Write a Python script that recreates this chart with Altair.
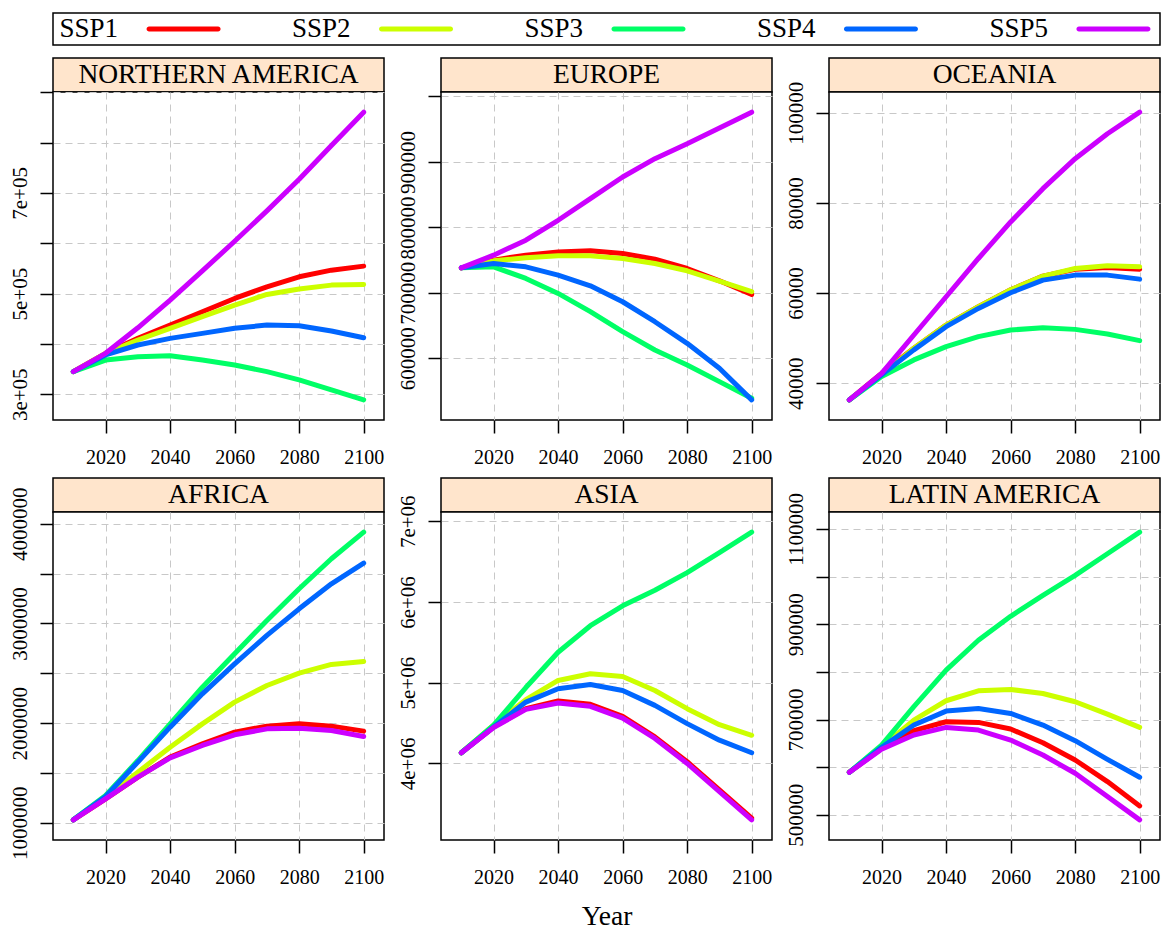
import altair as alt
import pandas as pd

FONT = "Liberation Serif"

years = [2010, 2020, 2030, 2040, 2050, 2060, 2070, 2080, 2090, 2100]
scenarios = ["SSP1", "SSP2", "SSP3", "SSP4", "SSP5"]
colors = ["#FF0000", "#CCFF00", "#00FF66", "#0066FF", "#CC00FF"]
regions = ["NORTHERN AMERICA", "EUROPE", "OCEANIA", "AFRICA", "ASIA", "LATIN AMERICA"]

# Northern America
na_ssp1 = [344900, 381300, 411000, 437500, 463900, 490300, 513500, 533300, 546500, 554500]
na_ssp2 = [344900, 381300, 407700, 430900, 454000, 477100, 498300, 508900, 516800, 518100]
na_ssp3 = [344900, 367900, 374500, 376500, 367900, 358000, 344900, 328400, 308600, 288800]
na_ssp4 = [344900, 378000, 397800, 411000, 420900, 430900, 437500, 436200, 425600, 412300]
na_ssp5 = [344900, 381300, 432000, 487000, 545000, 604000, 664200, 727000, 794400, 860500]
# Europe
eu_ssp1 = [738200, 750000, 757600, 762600, 764200, 760100, 751500, 737200, 718400, 697600]
eu_ssp2 = [738200, 748900, 753500, 756500, 756500, 752500, 744900, 733700, 717900, 701700]
eu_ssp3 = [738200, 739800, 722000, 699100, 671200, 640700, 612700, 589800, 564400, 539000]
eu_ssp4 = [738200, 744900, 739800, 727100, 710800, 686400, 655900, 622900, 584800, 536500]
eu_ssp5 = [738200, 757600, 780400, 810900, 844000, 877000, 905000, 927800, 951700, 976100]
# Oceania
oc_ssp1 = [36310, 42200, 47750, 52900, 56970, 60740, 63760, 65300, 65680, 65310]
oc_ssp2 = [36310, 41850, 47750, 52900, 56970, 60740, 63760, 65460, 66050, 65830]
oc_ssp3 = [36310, 41480, 45170, 48120, 50330, 51810, 52320, 51950, 50920, 49450]
oc_ssp4 = [36310, 41850, 47400, 52550, 56600, 60070, 62880, 63990, 63990, 63100]
oc_ssp5 = [36310, 42200, 50700, 59190, 67680, 75790, 83170, 89820, 95350, 100150]
# Africa
af_ssp1 = [1030000, 1241000, 1458000, 1659000, 1793000, 1910000, 1970000, 1993000, 1970000, 1920000]
af_ssp2 = [1030000, 1258000, 1508000, 1759000, 1993000, 2211000, 2378000, 2502000, 2589000, 2619000]
af_ssp3 = [1030000, 1274000, 1625000, 1993000, 2361000, 2696000, 3030000, 3348000, 3649000, 3916000]
af_ssp4 = [1030000, 1264000, 1609000, 1960000, 2294000, 2595000, 2880000, 3147000, 3398000, 3605000]
af_ssp5 = [1030000, 1241000, 1458000, 1652000, 1776000, 1883000, 1943000, 1950000, 1926000, 1866000]
# Asia
as_ssp1 = [4132000, 4452000, 4678000, 4773000, 4732000, 4584000, 4329000, 4021000, 3671000, 3322000]
as_ssp2 = [4132000, 4473000, 4790000, 5028000, 5110000, 5077000, 4904000, 4678000, 4480000, 4349000]
as_ssp3 = [4132000, 4473000, 4940000, 5377000, 5706000, 5952000, 6145000, 6363000, 6610000, 6865000]
as_ssp4 = [4132000, 4452000, 4760000, 4925000, 4978000, 4904000, 4719000, 4493000, 4288000, 4132000]
as_ssp5 = [4132000, 4445000, 4670000, 4748000, 4707000, 4560000, 4310000, 4000000, 3650000, 3301000]
# Latin America
la_ssp1 = [589300, 639600, 676600, 695400, 694000, 680000, 651400, 615100, 569800, 518800]
la_ssp2 = [589300, 643000, 698900, 739400, 760300, 763100, 754700, 737300, 711400, 683500]
la_ssp3 = [589300, 646500, 727000, 803600, 866400, 916600, 960600, 1002400, 1047800, 1093200]
la_ssp4 = [589300, 641700, 688400, 717700, 723300, 712800, 688400, 655600, 616500, 578900]
la_ssp5 = [589300, 637500, 667500, 683500, 678000, 657000, 625600, 587200, 538400, 489500]

series_by_region = {
    "NORTHERN AMERICA": [na_ssp1, na_ssp2, na_ssp3, na_ssp4, na_ssp5],
    "EUROPE": [eu_ssp1, eu_ssp2, eu_ssp3, eu_ssp4, eu_ssp5],
    "OCEANIA": [oc_ssp1, oc_ssp2, oc_ssp3, oc_ssp4, oc_ssp5],
    "AFRICA": [af_ssp1, af_ssp2, af_ssp3, af_ssp4, af_ssp5],
    "ASIA": [as_ssp1, as_ssp2, as_ssp3, as_ssp4, as_ssp5],
    "LATIN AMERICA": [la_ssp1, la_ssp2, la_ssp3, la_ssp4, la_ssp5],
}

x_ticks = [2020, 2040, 2060, 2080, 2100]

y_ticks = {
    "NORTHERN AMERICA": [300000, 400000, 500000, 600000, 700000, 800000, 900000],
    "EUROPE": [600000, 700000, 800000, 900000, 1000000],
    "OCEANIA": [40000, 60000, 80000, 100000],
    "AFRICA": [1000000, 1500000, 2000000, 2500000, 3000000, 3500000, 4000000],
    "ASIA": [4000000, 5000000, 6000000, 7000000],
    "LATIN AMERICA": [500000, 600000, 700000, 800000, 900000, 1000000, 1100000],
}
y_labels = {
    "NORTHERN AMERICA": ["3e+05", "", "5e+05", "", "7e+05", "", ""],
    "EUROPE": ["600000", "700000", "800000", "900000", ""],
    "OCEANIA": ["40000", "60000", "80000", "100000"],
    "AFRICA": ["1000000", "", "2000000", "", "3000000", "", "4000000"],
    "ASIA": ["4e+06", "5e+06", "6e+06", "7e+06"],
    "LATIN AMERICA": ["500000", "", "700000", "", "900000", "", "1100000"],
}

PW, PH, SH = 331, 328, 34
LINE_W = 5
BORDER = dict(stroke="black", strokeWidth=1.5)


def label_expr(ticks, labels):
    expr = "''"
    for t, l in reversed(list(zip(ticks, labels))):
        expr = f"datum.value == {t} ? '{l}' : ({expr})"
    return expr


def padded(lo, hi, frac=0.07):
    p = (hi - lo) * frac
    return [float(lo - p), float(hi + p)]


color_scale = alt.Scale(domain=scenarios, range=colors)


def panel(region):
    rows = []
    for sc, vals in zip(scenarios, series_by_region[region]):
        for yr, v in zip(years, vals):
            rows.append({"year": yr, "value": v, "scenario": sc})
    df = pd.DataFrame(rows)
    ydom = padded(df["value"].min(), df["value"].max())
    xdom = padded(min(years), max(years))

    strip = (
        alt.Chart(pd.DataFrame({"region": [region]}))
        .mark_text(font=FONT, fontSize=27.5, color="black", baseline="middle")
        .encode(text="region:N")
        .properties(width=PW, height=SH,
                    view=alt.ViewBackground(fill="#FFE5CC", **BORDER))
    )

    xaxis_kw = dict(values=x_ticks, format="d", labelPadding=14, labelFlush=False,
                    labelOverlap=False)
    if region == "ASIA":
        xaxis = alt.Axis(title="Year", titleFontSize=27.5, titlePadding=15, **xaxis_kw)
    else:
        xaxis = alt.Axis(title=None, **xaxis_kw)

    yaxis = alt.Axis(
        title=None,
        values=y_ticks[region],
        labelExpr=label_expr(y_ticks[region], y_labels[region]),
        labelAngle=270,
        labelAlign="center",
        labelBaseline="bottom",
        labelPadding=10,
        labelOverlap=False,
        labelFlush=False,
        labelFontSize=21,
    )

    plot = (
        alt.Chart(df)
        .mark_line(strokeWidth=LINE_W, strokeCap="round", strokeJoin="round")
        .encode(
            x=alt.X("year:Q", scale=alt.Scale(domain=xdom, nice=False, zero=False), axis=xaxis),
            y=alt.Y("value:Q", scale=alt.Scale(domain=ydom, nice=False, zero=False), axis=yaxis),
            color=alt.Color("scenario:N", scale=color_scale, legend=None),
        )
        .properties(width=PW, height=PH, view=alt.ViewBackground(fill="white", **BORDER))
    )
    return alt.vconcat(strip, plot, spacing=0, bounds="flush").resolve_scale(
        x="independent", y="independent")


# legend (text first, then the line sample, as in the original key)
leg_df = pd.DataFrame({"scenario": scenarios})
leg_x = alt.X("scenario:N", scale=alt.Scale(type="point", domain=scenarios, padding=0.381),
              axis=None)
leg_text = alt.Chart(leg_df).mark_text(
    align="left", baseline="middle", dx=-82, font=FONT, fontSize=27, color="black"
).encode(x=leg_x, text="scenario:N")
leg_line = alt.Chart(leg_df).mark_tick(
    orient="horizontal", size=74, thickness=LINE_W, xOffset=42, cornerRadius=2.5, opacity=1
).encode(x=leg_x, color=alt.Color("scenario:N", scale=color_scale, legend=None))
legend_chart = alt.layer(leg_text, leg_line).properties(
    width=1107, height=32, view=alt.ViewBackground(fill="white", **BORDER))

row1 = alt.hconcat(*[panel(r) for r in regions[:3]], spacing=11).resolve_scale(
    x="independent", y="independent")
row2 = alt.hconcat(*[panel(r) for r in regions[3:]], spacing=11).resolve_scale(
    x="independent", y="independent")
grid = alt.vconcat(row1, row2, spacing=9).resolve_scale(
    x="independent", y="independent")

chart = (
    alt.vconcat(legend_chart, grid, spacing=11)
    .resolve_scale(x="independent", y="independent")
    .properties(padding={"left": 0, "top": 4, "right": 2, "bottom": 0}, background="white")
    .configure_axis(
        labelFont=FONT, labelFontSize=20, labelColor="black",
        tickColor="black", tickWidth=1.5, tickSize=13,
        domain=False,
        grid=True, gridColor="#c8c8c8", gridDash=[7, 5], gridWidth=1,
        titleFont=FONT, titleFontWeight="normal", titleColor="black",
    )
)

chart.save("out.html", embed_options={"renderer": "svg", "actions": False})
